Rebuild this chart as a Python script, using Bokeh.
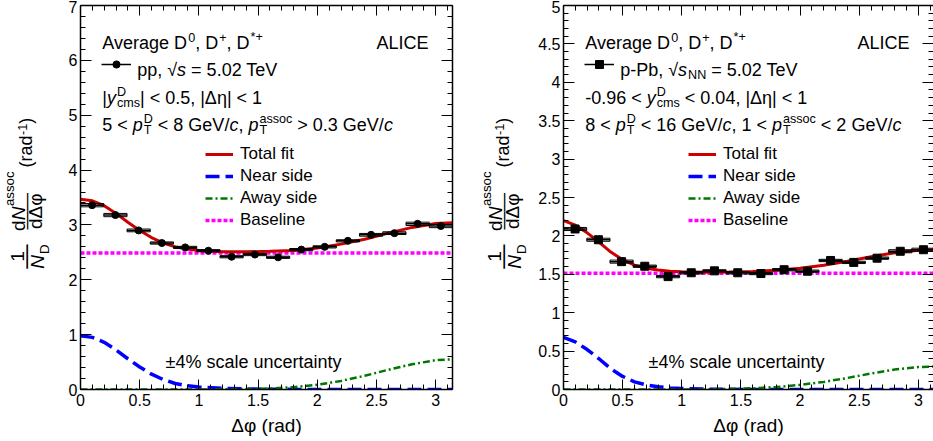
import math
from bokeh.plotting import figure
from bokeh.layouts import row
from bokeh.models import (Range1d, LinearAxis, SingleIntervalTicker, CustomJSTickFormatter,
                          Label, Legend, LegendItem)
from bokeh.embed import file_html
from bokeh.resources import INLINE

FONT = "Liberation Sans"

# ---------------- data ----------------
dphi_centres = [0.098, 0.295, 0.491, 0.687, 0.884, 1.080, 1.276, 1.473,
                1.669, 1.865, 2.062, 2.258, 2.454, 2.651, 2.847, 3.043]
dphi_half_bin = 0.098

pp_yield = [3.36, 3.18, 2.90, 2.67, 2.59, 2.53, 2.42, 2.46,
            2.41, 2.55, 2.60, 2.71, 2.82, 2.85, 3.02, 2.98]
pp_stat = [0.05, 0.04, 0.04, 0.03, 0.03, 0.03, 0.03, 0.03,
           0.03, 0.03, 0.03, 0.03, 0.03, 0.04, 0.04, 0.05]
pp_syst = [0.03, 0.03, 0.025, 0.02, 0.02, 0.02, 0.02, 0.02,
           0.02, 0.02, 0.02, 0.02, 0.025, 0.025, 0.03, 0.03]

ppb_yield = [2.09, 1.95, 1.665, 1.605, 1.47, 1.52, 1.545, 1.52,
             1.51, 1.56, 1.54, 1.68, 1.655, 1.71, 1.80, 1.82]
ppb_stat = [0.04, 0.04, 0.03, 0.03, 0.03, 0.03, 0.03, 0.03,
            0.03, 0.03, 0.03, 0.03, 0.03, 0.03, 0.03, 0.04]
ppb_syst = [0.02, 0.02, 0.02, 0.015, 0.015, 0.015, 0.015, 0.015,
            0.015, 0.015, 0.015, 0.015, 0.015, 0.015, 0.02, 0.02]

fit_dphi = [0.0, 0.1, 0.2, 0.3, 0.4, 0.5, 0.6, 0.7, 0.8, 0.9, 1.0,
            1.2, 1.4, 1.6, 1.8, 2.0, 2.2, 2.4, 2.6, 2.8, 3.0, 3.1416]

pp_total = [3.47, 3.44, 3.35, 3.21, 3.05, 2.90, 2.77, 2.67, 2.60, 2.56, 2.535,
            2.51, 2.51, 2.52, 2.535, 2.58, 2.65, 2.74, 2.85, 2.955, 3.025, 3.04]
pp_near = [0.98, 0.95, 0.86, 0.72, 0.56, 0.41, 0.28, 0.18, 0.11, 0.07, 0.045,
           0.02, 0.01, 0.005, 0.002, 0.0, 0.0, 0.0, 0.0, 0.0, 0.0, 0.0]
pp_away = [0.0, 0.0, 0.0, 0.0, 0.0, 0.0, 0.0, 0.0, 0.0, 0.0, 0.001,
           0.003, 0.008, 0.019, 0.043, 0.087, 0.156, 0.25, 0.36, 0.46, 0.535, 0.55]
pp_baseline = [2.49] * len(fit_dphi)

ppb_total = [2.20, 2.14, 2.04, 1.92, 1.79, 1.69, 1.62, 1.58, 1.555, 1.54, 1.532,
             1.527, 1.529, 1.536, 1.552, 1.58, 1.619, 1.67, 1.728, 1.78, 1.813, 1.82]
ppb_near = [0.68, 0.62, 0.52, 0.40, 0.27, 0.17, 0.10, 0.06, 0.035, 0.02, 0.012,
            0.005, 0.002, 0.0, 0.0, 0.0, 0.0, 0.0, 0.0, 0.0, 0.0, 0.0]
ppb_away = [0.0, 0.0, 0.0, 0.0, 0.0, 0.0, 0.0, 0.0, 0.0, 0.0, 0.0,
            0.002, 0.007, 0.016, 0.032, 0.06, 0.099, 0.15, 0.208, 0.26, 0.293, 0.30]
ppb_baseline = [1.515] * len(fit_dphi)

# ---------------- text helpers ----------------
W = {' ': 278, ',': 278, '.': 278, '/': 278, '-': 333, '*': 389, '+': 584, '<': 584,
     '=': 584, '>': 584, '|': 260, '√': 549, 'Δ': 668, 'η': 556, '(': 333, ')': 333,
     'A': 667, 'C': 722, 'D': 722, 'E': 667, 'G': 778, 'I': 278, 'L': 556, 'N': 722,
     'P': 667, 'T': 611, 'V': 667, 'a': 556, 'b': 556, 'c': 500, 'd': 556, 'e': 556,
     'g': 556, 'm': 833, 'o': 556, 'p': 556, 'r': 333, 's': 500, 'v': 500, 'y': 500}


def tw(s, size):
    return sum(W.get(ch, 556) for ch in s) * size / 1000.0


def label(x, y, text, size=18, style="normal", align="left", baseline="alphabetic",
          angle=0.0, x_offset=0.0, y_offset=0.0):
    if align == "left":
        n = len(text) - len(text.lstrip(" "))
        x_offset += tw(" " * n, size)
        text = text.lstrip(" ")
    return Label(x=x, y=y, x_offset=x_offset, y_offset=y_offset, text=text,
                 text_font=FONT, text_font_size=f"{size}px", text_font_style=style,
                 text_align=align, text_baseline=baseline, angle=angle,
                 text_color="black")


def put(p, dx, dy, text, size=18, style="normal", align="left"):
    """dx, dy: pixel offsets from the frame's top-left corner (dy downwards)."""
    p.add_layout(label(p.x_range.start, p.y_range.end, text, size, style, align,
                       x_offset=dx, y_offset=-dy))


def rich(p, dx, dy, segs, size=18):
    small = round(size * 0.7, 1)
    up, down = 5.5, 5.0
    x = dx
    for seg in segs:
        kind = seg[0]
        if kind == "n":
            put(p, x, dy, seg[1], size)
            x += tw(seg[1], size)
        elif kind == "i":
            put(p, x, dy, seg[1], size, "italic")
            x += tw(seg[1], size)
        elif kind == "sup":
            put(p, x + 1, dy - up, seg[1], small)
            x += tw(seg[1], small) + 1
        elif kind == "sub":
            put(p, x + 1, dy + down, seg[1], small)
            x += tw(seg[1], small) + 1
        elif kind == "ss":
            put(p, x + 1, dy - up, seg[1], small)
            put(p, x + 1, dy + down, seg[2], small)
            x += max(tw(seg[1], small), tw(seg[2], small)) + 1


# rotated y-title pieces: (text, centre x, centre y, size, style) in left-panel page coords
YTITLE = [("1", 16.9, 256.0, 19, "normal"),
          ("—", 24.0, 256.0, 24.3, "normal"),
          ("N", 36.9, 261.3, 19, "italic"),
          ("D", 43.9, 248.7, 13.3, "normal"),
          ("d", 17.9, 225.2, 19, "normal"),
          ("N", 17.9, 213.0, 19, "italic"),
          ("assoc", 8.9, 188.2, 13.3, "normal"),
          ("——", 24.5, 210.75, 18.25, "normal"),
          ("dΔφ", 34.9, 210.75, 19, "normal"),
          ("(rad", 25.8, 151.0, 18, "normal"),
          ("-1", 22.1, 128.9, 12.6, "normal"),
          (")", 25.8, 120.3, 18, "normal")]

H = 441
TOP, BOTTOM = 5, 52  # frame borders shared by every plot of the row


def title_strip(x0, width, shift):
    # the row aligns frames, so the strip's frame runs from y=TOP to y=H-BOTTOM;
    # its y range is chosen so that data y == H - (page y)
    t = figure(width=width, height=H, x_range=Range1d(x0, x0 + width),
               y_range=Range1d(BOTTOM, H - TOP),
               output_backend="svg", toolbar_location=None,
               x_axis_location=None, y_axis_location=None,
               min_border_left=0, min_border_right=0,
               min_border_top=TOP, min_border_bottom=BOTTOM)
    t.grid.visible = False
    t.outline_line_color = None
    t.background_fill_color = "white"
    t.border_fill_color = "white"
    for text, cx, cy, size, style in YTITLE:
        t.add_layout(label(cx + shift, H - cy, text, size, style, align="center",
                           baseline="middle", angle=math.pi / 2))
    return t


def make_panel(width, xmax, ymax, y_major, b_left, b_right, right_line=True):
    p = figure(width=width, height=H, x_range=Range1d(0, xmax), y_range=Range1d(0, ymax),
               output_backend="svg", toolbar_location=None,
               x_axis_location=None, y_axis_location=None,
               min_border_left=b_left, min_border_right=b_right,
               min_border_top=TOP, min_border_bottom=BOTTOM)
    p.grid.visible = False
    p.outline_line_color = None
    p.background_fill_color = "white"
    p.border_fill_color = "white"
    fmt = CustomJSTickFormatter(code="return String(Math.round(tick*10)/10);")
    for loc, dim in [("below", "x"), ("above", "x"), ("left", "y"), ("right", "y")]:
        ticker = SingleIntervalTicker(interval=0.5 if dim == "x" else y_major, num_minor_ticks=5)
        ax = LinearAxis(ticker=ticker)
        ax.major_tick_in = 10 if dim == "x" else 11
        ax.major_tick_out = 0
        ax.minor_tick_in = 5
        ax.minor_tick_out = 0
        ax.major_tick_line_color = "black"
        ax.minor_tick_line_color = "black"
        ax.axis_line_color = "black"
        ax.axis_line_width = 1.5
        if loc == "right" and not right_line:
            ax.axis_line_color = None
        if loc in ("below", "left"):
            ax.formatter = fmt
            ax.major_label_text_font = FONT
            ax.major_label_text_font_size = "16px"
            ax.major_label_text_color = "black"
            ax.major_label_standoff = 4 if dim == "x" else 3
        else:
            ax.formatter = CustomJSTickFormatter(code="return '';")
            ax.major_label_text_font_size = "0px"
            ax.major_label_standoff = 0
        if loc == "below":
            ax.axis_label = "Δφ (rad)"
            ax.axis_label_text_font = FONT
            ax.axis_label_text_font_size = "19px"
            ax.axis_label_text_font_style = "normal"
            ax.axis_label_text_color = "black"
            ax.axis_label_standoff = 6
        p.add_layout(ax, loc)
    return p


def fill_panel(p, yield_, stat, syst, marker, msize, total, near, away, base,
               head, alice_dx):
    r_base = p.line(fit_dphi, base, line_color="#ff00ff", line_width=3.5, line_dash="4 2")
    r_near = p.line(fit_dphi, near, line_color="#0000ff", line_width=3.5, line_dash="14 6")
    r_away = p.line(fit_dphi, away, line_color="#007700", line_width=2.5, line_dash="7 3 2 3")
    r_tot = p.line(fit_dphi, total, line_color="#cc0000", line_width=3)

    lo = [c - dphi_half_bin for c in dphi_centres]
    hi = [c + dphi_half_bin for c in dphi_centres]
    p.quad(left=lo, right=hi, bottom=[y - s for y, s in zip(yield_, syst)],
           top=[y + s for y, s in zip(yield_, syst)], fill_alpha=0,
           line_color="black", line_width=1)
    r_h = p.segment(lo, yield_, hi, yield_, line_color="black", line_width=1.5)
    p.segment(dphi_centres, [y - s for y, s in zip(yield_, stat)],
              dphi_centres, [y + s for y, s in zip(yield_, stat)],
              line_color="black", line_width=1.5)
    r_m = p.scatter(dphi_centres, yield_, marker=marker, size=msize,
                    fill_color="black", line_color="black")

    leg = Legend(items=[LegendItem(label="Total fit", renderers=[r_tot]),
                        LegendItem(label="Near side", renderers=[r_near]),
                        LegendItem(label="Away side", renderers=[r_away]),
                        LegendItem(label="Baseline", renderers=[r_base])],
                 location=(125, 159), glyph_width=28, glyph_height=20, label_height=20,
                 spacing=2, padding=0, margin=0, label_standoff=7,
                 label_text_font=FONT, label_text_font_size="17px",
                 label_text_color="black", border_line_alpha=0, background_fill_alpha=0)
    p.add_layout(leg)
    gh = 18 if marker == "circle" else 20
    mleg = Legend(items=[LegendItem(label=" ", renderers=[r_h, r_m])],
                  location=(21, 384 - 59 - gh / 2), glyph_width=30, glyph_height=gh,
                  label_height=gh, padding=0, margin=0, label_standoff=0,
                  label_text_font_size="2px", border_line_alpha=0, background_fill_alpha=0)
    p.add_layout(mleg)

    rich(p, 21.7, 37, head[0])
    put(p, alice_dx, 37, "ALICE", 18, align="right")
    rich(p, 56.7, 64, head[1])
    rich(p, 21.7, 92, head[2])
    rich(p, 21.7, 119, head[3])
    put(p, 85, 356, "±4% scale uncertainty", 18)


HEAD_PP = [[("n", "Average D"), ("sup", "0"), ("n", ", D"), ("sup", "+"), ("n", ", D"), ("sup", "*+")],
           [("n", "pp, "), ("n", "√"), ("i", "s"), ("n", " = 5.02 TeV")],
           [("n", "|"), ("i", "y"), ("ss", "D", "cms"), ("n", "| < 0.5, |Δη| < 1")],
           [("n", "5 < "), ("i", "p"), ("ss", "D", "T"), ("n", " < 8 GeV/"), ("i", "c"), ("n", ", "),
            ("i", "p"), ("ss", "assoc", "T"), ("n", " > 0.3 GeV/"), ("i", "c")]]
HEAD_PPB = [HEAD_PP[0],
            [("n", "p-Pb, "), ("n", "√"), ("i", "s"), ("sub", "NN"), ("n", " = 5.02 TeV")],
            [("n", "-0.96 < "), ("i", "y"), ("ss", "D", "cms"), ("n", " < 0.04, |Δη| < 1")],
            [("n", "8 < "), ("i", "p"), ("ss", "D", "T"), ("n", " < 16 GeV/"), ("i", "c"),
             ("n", ", 1 < "), ("i", "p"), ("ss", "assoc", "T"), ("n", " < 2 GeV/"), ("i", "c")]]

t1 = title_strip(0, 52, 0)
p1 = make_panel(414, math.pi, 7, 1, 28, 14)
fill_panel(p1, pp_yield, pp_stat, pp_syst, "circle", 7, pp_total, pp_near, pp_away,
           pp_baseline, HEAD_PP, 348)

t2 = title_strip(466, 68, 477)
p2 = make_panel(399, 3.128, 5, 0.5, 29, 0, right_line=False)
fill_panel(p2, ppb_yield, ppb_stat, ppb_syst, "square", 8, ppb_total, ppb_near, ppb_away,
           ppb_baseline, HEAD_PPB, 346)

layout = row(t1, p1, t2, p2)
with open("out.html", "w") as f:
    f.write(file_html(layout, INLINE))
